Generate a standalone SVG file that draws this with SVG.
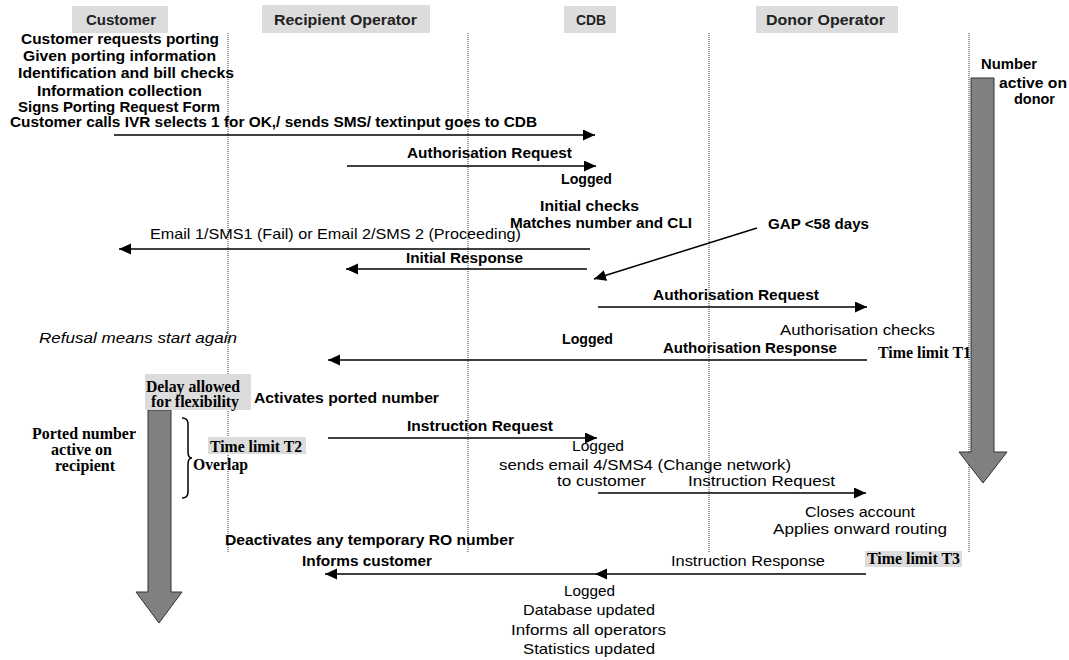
<svg xmlns="http://www.w3.org/2000/svg" width="1069" height="660" viewBox="0 0 1069 660">
<style>
.hdr{fill:#dcdcdc;stroke:none}
.ht{font-family:"Liberation Sans",Arial,sans-serif;font-weight:bold;font-size:14px;fill:#222}
.b{font-family:"Liberation Sans",Arial,sans-serif;font-weight:bold;font-size:15px;fill:#000}
.r{font-family:"Liberation Sans",Arial,sans-serif;font-size:15px;fill:#000}
.i{font-family:"Liberation Sans",Arial,sans-serif;font-style:italic;font-size:15px;fill:#000}
.s{font-family:"Liberation Serif","Times New Roman",serif;font-weight:bold;font-size:16px;fill:#000}
.life{stroke:#333;stroke-width:1;stroke-dasharray:1 1;fill:none}
.msg{stroke:#000;stroke-width:1.5;fill:none;marker-end:url(#ah)}
.big{fill:#808080;stroke:#333;stroke-width:1}
.box{fill:#dcdcdc;stroke:none}
</style>
<defs>
<marker id="ah" markerUnits="userSpaceOnUse" markerWidth="13" markerHeight="12" refX="12" refY="5.5" orient="auto">
<path d="M0,0 L12,5.5 L0,11 z" fill="#000"/>
</marker>
</defs>
<rect width="1069" height="660" fill="#fff"/>

<g id="lane-customer">
<rect class="hdr" x="72" y="6" width="96" height="27"/>
<text class="ht" x="86" y="25" textLength="70" lengthAdjust="spacingAndGlyphs">Customer</text>
<line class="life" x1="228" y1="33" x2="228" y2="553"/>
</g>
<g id="lane-recipient">
<rect class="hdr" x="262" y="5" width="168" height="28"/>
<text class="ht" x="274" y="25" textLength="143" lengthAdjust="spacingAndGlyphs">Recipient Operator</text>
<line class="life" x1="468" y1="33" x2="468" y2="553"/>
</g>
<g id="lane-cdb">
<rect class="hdr" x="564" y="6" width="52" height="27"/>
<text class="ht" x="576" y="25" textLength="30" lengthAdjust="spacingAndGlyphs">CDB</text>
<line class="life" x1="709" y1="33" x2="709" y2="553"/>
</g>
<g id="lane-donor">
<rect class="hdr" x="756" y="6" width="142" height="27"/>
<text class="ht" x="766" y="25" textLength="119" lengthAdjust="spacingAndGlyphs">Donor Operator</text>
<line class="life" x1="969" y1="33" x2="969" y2="553"/>
</g>

<g id="customer-steps">
<text class="b" x="21" y="44" textLength="198" lengthAdjust="spacingAndGlyphs">Customer requests porting</text>
<text class="b" x="23" y="61" textLength="193" lengthAdjust="spacingAndGlyphs">Given porting information</text>
<text class="b" x="18" y="78" textLength="216" lengthAdjust="spacingAndGlyphs">Identification and bill checks</text>
<text class="b" x="37" y="96" textLength="165" lengthAdjust="spacingAndGlyphs">Information collection</text>
<text class="b" x="18" y="112" textLength="202" lengthAdjust="spacingAndGlyphs">Signs Porting Request Form</text>
<text class="b" x="10" y="127" textLength="527" lengthAdjust="spacingAndGlyphs">Customer calls IVR selects 1 for OK,/ sends SMS/ textinput goes to CDB</text>
</g>

<g id="number-active-donor">
<polygon class="big" points="971,78 994,78 994,452 1007,452 983,483 959,452 971,452"/>
<text class="b" x="981" y="69" textLength="56" lengthAdjust="spacingAndGlyphs">Number</text>
<text class="b" x="999" y="88" textLength="68" lengthAdjust="spacingAndGlyphs">active on</text>
<text class="b" x="1014" y="104" textLength="41" lengthAdjust="spacingAndGlyphs">donor</text>
</g>

<g id="ported-number-recipient">
<polygon class="big" points="148,410 171,410 171,592 182,592 159,623 136,592 148,592"/>
<text class="s" x="32" y="439" textLength="104" lengthAdjust="spacingAndGlyphs">Ported number</text>
<text class="s" x="51" y="455" textLength="61" lengthAdjust="spacingAndGlyphs">active on</text>
<text class="s" x="55" y="471" textLength="60" lengthAdjust="spacingAndGlyphs">recipient</text>
</g>

<g id="delay-note">
<rect class="box" x="145" y="374" width="106" height="36"/>
<text class="s" x="146" y="392" textLength="94" lengthAdjust="spacingAndGlyphs">Delay allowed</text>
<text class="s" x="151" y="407" textLength="88" lengthAdjust="spacingAndGlyphs">for flexibility</text>
</g>

<g id="overlap">
<path d="M182,418 Q188,418 188,424 L188,452 Q188,458 192,458 Q188,458 188,464 L188,492 Q188,498 182,498" fill="none" stroke="#000" stroke-width="1.5"/>
<text class="s" x="193" y="470" textLength="55" lengthAdjust="spacingAndGlyphs">Overlap</text>
</g>

<g id="time-t2">
<rect class="box" x="208" y="437" width="98" height="17"/>
<text class="s" x="210" y="452" textLength="92" lengthAdjust="spacingAndGlyphs">Time limit T2</text>
</g>
<g id="time-t1">
<text class="s" x="878" y="358" textLength="93" lengthAdjust="spacingAndGlyphs">Time limit T1</text>
</g>
<g id="time-t3">
<rect class="box" x="865" y="551" width="97" height="16"/>
<text class="s" x="867" y="564" textLength="93" lengthAdjust="spacingAndGlyphs">Time limit T3</text>
</g>

<g id="refusal-note">
<text class="i" x="39" y="343" textLength="198" lengthAdjust="spacingAndGlyphs">Refusal means start again</text>
</g>

<g id="cdb-initial">
<text class="b" x="561" y="184" textLength="51" lengthAdjust="spacingAndGlyphs">Logged</text>
<text class="b" x="540" y="211" textLength="99" lengthAdjust="spacingAndGlyphs">Initial checks</text>
<text class="b" x="510" y="228" textLength="182" lengthAdjust="spacingAndGlyphs">Matches number and CLI</text>
</g>
<g id="gap-note">
<text class="b" x="768" y="229" textLength="101" lengthAdjust="spacingAndGlyphs">GAP &lt;58 days</text>
</g>
<g id="donor-checks">
<text class="r" x="780" y="335" textLength="155" lengthAdjust="spacingAndGlyphs">Authorisation checks</text>
</g>
<g id="cdb-logged-2">
<text class="b" x="562" y="344" textLength="51" lengthAdjust="spacingAndGlyphs">Logged</text>
</g>
<g id="ro-activates">
<text class="b" x="254" y="403" textLength="185" lengthAdjust="spacingAndGlyphs">Activates ported number</text>
</g>
<g id="cdb-logged-3">
<text class="r" x="572" y="451" textLength="52" lengthAdjust="spacingAndGlyphs">Logged</text>
<text class="r" x="499" y="470" textLength="292" lengthAdjust="spacingAndGlyphs">sends email 4/SMS4 (Change network)</text>
<text class="r" x="557" y="486" textLength="89" lengthAdjust="spacingAndGlyphs">to customer</text>
</g>
<g id="donor-closes">
<text class="r" x="805" y="517" textLength="110" lengthAdjust="spacingAndGlyphs">Closes account</text>
<text class="r" x="773" y="534" textLength="174" lengthAdjust="spacingAndGlyphs">Applies onward routing</text>
</g>
<g id="ro-deactivates">
<text class="b" x="225" y="545" textLength="289" lengthAdjust="spacingAndGlyphs">Deactivates any temporary RO number</text>
<text class="b" x="302" y="566" textLength="130" lengthAdjust="spacingAndGlyphs">Informs customer</text>
</g>
<g id="cdb-final">
<text class="r" x="564" y="596" textLength="51" lengthAdjust="spacingAndGlyphs">Logged</text>
<text class="r" x="523" y="615" textLength="132" lengthAdjust="spacingAndGlyphs">Database updated</text>
<text class="r" x="511" y="635" textLength="155" lengthAdjust="spacingAndGlyphs">Informs all operators</text>
<text class="r" x="523" y="654" textLength="132" lengthAdjust="spacingAndGlyphs">Statistics updated</text>
</g>

<g id="connectors">
<line class="msg" x1="114" y1="135" x2="595" y2="135"/>
<line class="msg" x1="347" y1="166" x2="596" y2="166"/>
<text class="b" x="407" y="158" textLength="165" lengthAdjust="spacingAndGlyphs">Authorisation Request</text>
<line class="msg" x1="590" y1="249" x2="119" y2="249"/>
<text class="r" x="150" y="239" textLength="371" lengthAdjust="spacingAndGlyphs">Email 1/SMS1 (Fail) or Email 2/SMS 2 (Proceeding)</text>
<line class="msg" x1="587" y1="269" x2="346" y2="269"/>
<text class="b" x="406" y="263" textLength="117" lengthAdjust="spacingAndGlyphs">Initial Response</text>
<line class="msg" x1="757" y1="228" x2="594" y2="279"/>
<line class="msg" x1="598" y1="307" x2="867" y2="307"/>
<text class="b" x="653" y="300" textLength="166" lengthAdjust="spacingAndGlyphs">Authorisation Request</text>
<line class="msg" x1="867" y1="360" x2="328" y2="360"/>
<text class="b" x="663" y="353" textLength="174" lengthAdjust="spacingAndGlyphs">Authorisation Response</text>
<line class="msg" x1="328" y1="438" x2="597" y2="438"/>
<text class="b" x="407" y="431" textLength="146" lengthAdjust="spacingAndGlyphs">Instruction Request</text>
<line class="msg" x1="598" y1="493" x2="866" y2="493"/>
<text class="r" x="688" y="486" textLength="147" lengthAdjust="spacingAndGlyphs">Instruction Request</text>
<line class="msg" x1="866" y1="574" x2="595" y2="574"/>
<text class="r" x="671" y="566" textLength="154" lengthAdjust="spacingAndGlyphs">Instruction Response</text>
<line class="msg" x1="595" y1="574" x2="325" y2="574"/>
</g>
</svg>
